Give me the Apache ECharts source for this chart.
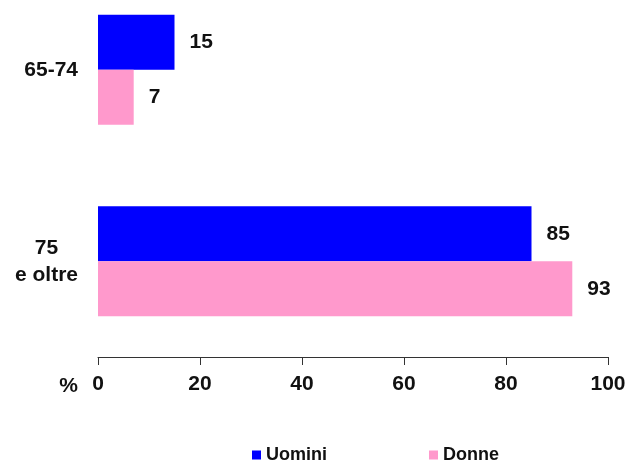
<!DOCTYPE html>
<html>
<head>
<meta charset="utf-8">
<script src="https://cdn.jsdelivr.net/npm/echarts@6/dist/echarts.min.js"></script>
<style>
html,body{margin:0;padding:0;background:#fff;}
#chart{width:631px;height:464px;}
</style>
</head>
<body>
<div id="chart"></div>
<script>
const categories = ['65-74', '75\ne oltre'];
const uomini = [15, 85];
const donne = [7, 93];
const xTicks = [0, 20, 40, 60, 80, 100];
const seriesNames = ['Uomini', 'Donne'];

const FONT = 'Liberation Sans, Arial, sans-serif';
const chart = echarts.init(document.getElementById('chart'), null, {renderer: 'canvas'});
const labelStyle = {
  show: true, position: 'right', distance: 15,
  fontFamily: FONT, fontWeight: 'bold', fontSize: 21, color: '#111'
};
chart.setOption({
  animation: false,
  backgroundColor: '#fff',
  legend: {
    data: seriesNames,
    left: 252, top: 446, padding: 0,
    icon: 'rect', itemWidth: 9, itemHeight: 9, itemGap: 102,
    textStyle: {fontFamily: FONT, fontWeight: 'bold', fontSize: 18, color: '#111'}
  },
  grid: {left: 98, width: 510, top: -26, height: 383, outerBoundsMode: 'none', containLabel: false},
  xAxis: {
    type: 'value', min: xTicks[0], max: xTicks[xTicks.length - 1], interval: 20,
    name: '%', nameLocation: 'start', nameGap: 20,
    nameTextStyle: {fontFamily: FONT, fontWeight: 'bold', fontSize: 21, color: '#111',
      align: 'right', verticalAlign: 'top', lineHeight: 21, padding: [19, 0, 0, 0]},
    axisLine: {show: true, lineStyle: {color: '#333', width: 1}},
    axisTick: {show: true, inside: false, length: 8, lineStyle: {color: '#333'}},
    splitLine: {show: false},
    axisLabel: {margin: 17, fontFamily: FONT, fontWeight: 'bold', fontSize: 21, color: '#111'}
  },
  yAxis: {
    type: 'category', data: categories, inverse: true,
    axisLine: {show: false}, axisTick: {show: false},
    axisLabel: {
      margin: 20, align: 'right',
      formatter: v => v.split('\n').map(s => '{a|' + s + '}').join('\n'),
      rich: {a: {align: 'center', fontFamily: FONT, fontWeight: 'bold', fontSize: 21, lineHeight: 27, color: '#111'}}
    }
  },
  series: [
    {name: seriesNames[0], type: 'bar', data: uomini, barWidth: 55, barGap: '0%',
     itemStyle: {color: '#0000FF'}, label: labelStyle},
    {name: seriesNames[1], type: 'bar', data: donne, barWidth: 55, barGap: '0%',
     itemStyle: {color: '#FF99CC'}, label: labelStyle}
  ]
});
</script>
</body>
</html>
